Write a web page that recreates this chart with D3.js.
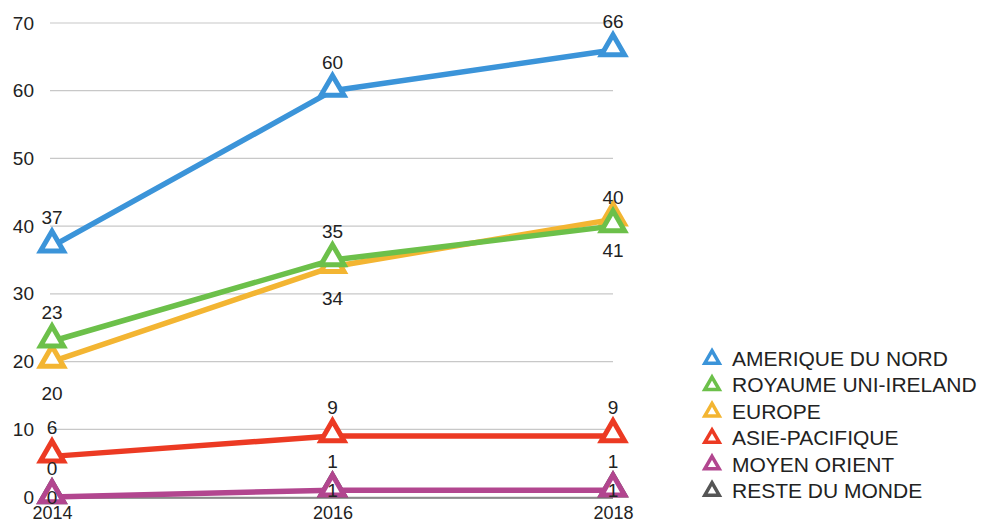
<!DOCTYPE html>
<html>
<head>
<meta charset="utf-8">
<script src="https://cdn.jsdelivr.net/npm/d3@7"></script>
<style>
  body { margin: 0; background: #fff; }
  text { font-family: "Liberation Sans", Arial, sans-serif; fill: #222; }
</style>
</head>
<body>
<div id="chart"></div>
<script>
const years = ["2014", "2016", "2018"];
const yTicks = [0, 10, 20, 30, 40, 50, 60, 70];
const seriesNames = ["AMERIQUE DU NORD", "ROYAUME UNI-IRELAND", "EUROPE", "ASIE-PACIFIQUE", "MOYEN ORIENT", "RESTE DU MONDE"];
const amerique = [37, 60, 66];
const royaume = [23, 35, 40];
const europe = [20, 34, 41];
const asie = [6, 9, 9];
const moyen = [0, 1, 1];
const reste = [0, 1, 1];
const colors = ["#3b94d9", "#6cc04a", "#f3b532", "#ec3a23", "#b2468f", "#555555"];
// where each series puts its value labels
const labelPos = ["above", "above", "below", "above", "above", "center"];

const width = 991, height = 526;
const svg = d3.select("#chart").append("svg")
    .attr("width", width)
    .attr("height", height);

const x = d3.scalePoint().domain(years).range([52, 613]);
const y = d3.scaleLinear().domain([0, 70]).range([497, 23]);

// gridlines
svg.append("g")
    .selectAll("line")
    .data(yTicks)
    .enter().append("line")
    .attr("x1", 50).attr("x2", 613)
    .attr("y1", d => y(d)).attr("y2", d => y(d))
    .attr("stroke", "#c8c8c8")
    .attr("stroke-width", 1.2);

svg.append("line")
    .attr("x1", 50).attr("x2", 613)
    .attr("y1", y(0) + 1).attr("y2", y(0) + 1)
    .attr("stroke", "#333").attr("stroke-width", 1.2);

const yaxis = d3.axisLeft(y).tickValues(yTicks).tickSize(0).tickPadding(0);
svg.append("g")
    .attr("transform", "translate(34,0)")
    .call(yaxis)
    .call(g => g.select(".domain").remove())
    .selectAll("text")
    .style("font-size", "19px")
    .attr("fill", "#222");

const xaxis = d3.axisBottom(x).tickSize(0).tickPadding(0);
svg.append("g")
    .attr("transform", "translate(0,506)")
    .call(xaxis)
    .call(g => g.select(".domain").remove())
    .selectAll("text")
    .style("font-size", "18px")
    .attr("fill", "#222");

const slices = [amerique, royaume, europe, asie, moyen, reste].map((vals, i) => ({
    name: seriesNames[i],
    color: colors[i],
    pos: labelPos[i],
    values: vals.map((v, j) => ({ year: years[j], value: v }))
}));

const line = d3.line()
    .x(d => x(d.year))
    .y(d => y(d.value));

const tri = d3.symbol().type(d3.symbolTriangle).size(230);

// draw the last series first so it sits underneath
const drawOrder = slices.slice().reverse();

const groups = svg.selectAll(".serie")
    .data(drawOrder)
    .enter().append("g")
    .attr("class", "serie");

groups.append("path")
    .attr("d", d => line(d.values))
    .attr("fill", "none")
    .attr("stroke", d => d.color)
    .attr("stroke-width", d => d.name == "RESTE DU MONDE" ? 3 : 5.5)
    .attr("stroke-linejoin", "round");

groups.selectAll(".marker")
    .data(d => d.values.map(v => ({ ...v, color: d.color })))
    .enter().append("path")
    .attr("class", "marker")
    .attr("d", tri)
    .attr("transform", d => "translate(" + x(d.year) + "," + (y(d.value) - 2) + ")")
    .attr("fill", "#fff")
    .attr("stroke", d => d.color)
    .attr("stroke-width", 5)
    .attr("stroke-linejoin", "miter");

// value labels on top of every line
const labels = svg.append("g");
slices.forEach(s => {
    labels.selectAll(null)
        .data(s.values)
        .enter().append("text")
        .attr("x", d => x(d.year))
        .attr("y", d => {
            if (s.pos == "above") return y(d.value) - 22;
            if (s.pos == "below") return y(d.value) + 38;
            return y(d.value) + 7;
        })
        .attr("text-anchor", "middle")
        .style("font-size", "19px")
        .text(d => d.value);
});

// legend
const legend = svg.append("g")
    .attr("transform", "translate(712,358)");

const items = legend.selectAll("g")
    .data(slices)
    .enter().append("g")
    .attr("transform", (d, i) => "translate(0," + (i * 26.4) + ")");

items.append("path")
    .attr("d", d3.symbol().type(d3.symbolTriangle).size(90))
    .attr("transform", "translate(0,1)")
    .attr("fill", "#fff")
    .attr("stroke", d => d.color)
    .attr("stroke-width", 3.5);

items.append("text")
    .attr("x", 20)
    .attr("y", 8)
    .style("font-size", "21px")
    .text(d => d.name);
</script>
</body>
</html>
